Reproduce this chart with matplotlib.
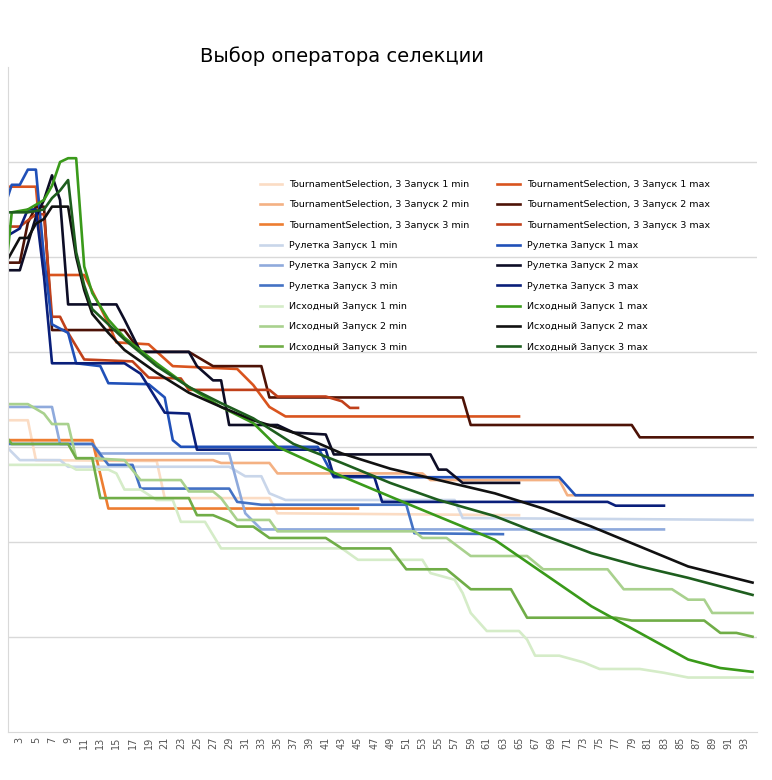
# encoding: UTF-8
import numpy as np
import matplotlib.pyplot as plt

# -----------------------------------------------------------------------------
def selection_operator_chart():
    # name: (colour, [(generation, value), ...])
    series = {
        u'TournamentSelection, 3 Запуск 1 min': ('#fbdcc4', [(1, 3.28), (4, 3.28), (5, 2.86), (20, 2.85), (21, 2.46), (34, 2.46), (35, 2.3), (65, 2.28)]),
        u'TournamentSelection, 3 Запуск 2 min': ('#f4b183', [(1, 3.07), (12, 3.07), (13, 2.86), (27, 2.86), (28, 2.83), (34, 2.83), (35, 2.72), (53, 2.72), (54, 2.65), (70, 2.65), (71, 2.49), (94, 2.49)]),
        u'TournamentSelection, 3 Запуск 3 min': ('#ed7d31', [(1, 3.07), (12, 3.07), (14, 2.35), (45, 2.35)]),
        u'Рулетка Запуск 1 min': ('#c9d6ea', [(1, 3.03), (3, 2.86), (8, 2.86), (9, 2.79), (29, 2.79), (31, 2.69), (33, 2.69), (34, 2.51), (36, 2.44), (57, 2.44), (58, 2.25), (94, 2.23)]),
        u'Рулетка Запуск 2 min': ('#8faadc', [(1, 3.42), (7, 3.42), (8, 3.03), (12, 3.03), (13, 2.93), (29, 2.93), (31, 2.3), (33, 2.13), (83, 2.13)]),
        u'Рулетка Запуск 3 min': ('#4472c4', [(1, 3.03), (12, 3.03), (14, 2.81), (17, 2.81), (18, 2.56), (29, 2.56), (30, 2.42), (33, 2.39), (51, 2.39), (52, 2.09), (63, 2.08)]),
        u'Исходный Запуск 1 min': ('#d5ecc8', [(1, 2.81), (9, 2.81), (10, 2.76), (14, 2.76), (15, 2.72), (16, 2.55), (18, 2.55), (20, 2.44), (22, 2.44), (23, 2.21), (26, 2.21), (28, 1.93), (43, 1.93), (45, 1.81), (53, 1.81), (54, 1.67), (57, 1.6), (58, 1.46), (59, 1.25), (61, 1.06), (65, 1.06), (66, 0.97), (67, 0.8), (70, 0.8), (73, 0.73), (75, 0.66), (80, 0.66), (83, 0.62), (86, 0.57), (94, 0.57)]),
        u'Исходный Запуск 2 min': ('#a9d18e', [(1, 3.45), (4, 3.45), (6, 3.35), (7, 3.24), (9, 3.24), (10, 2.88), (12, 2.88), (16, 2.86), (18, 2.65), (23, 2.65), (24, 2.53), (27, 2.53), (28, 2.46), (30, 2.23), (34, 2.23), (35, 2.11), (52, 2.11), (53, 2.04), (56, 2.04), (59, 1.85), (66, 1.85), (68, 1.71), (76, 1.71), (78, 1.5), (84, 1.5), (86, 1.39), (88, 1.39), (89, 1.25), (94, 1.25)]),
        u'Исходный Запуск 3 min': ('#70ad47', [(1, 3.14), (2, 3.03), (9, 3.03), (10, 2.88), (12, 2.88), (13, 2.46), (24, 2.46), (25, 2.28), (27, 2.28), (29, 2.21), (30, 2.16), (32, 2.16), (34, 2.04), (41, 2.04), (43, 1.93), (49, 1.93), (51, 1.71), (56, 1.71), (59, 1.5), (64, 1.5), (66, 1.2), (77, 1.2), (79, 1.17), (88, 1.17), (90, 1.04), (92, 1.04), (94, 1.0)]),
        u'TournamentSelection, 3 Запуск 1 max': ('#d9541e', [(1, 5.74), (5, 5.74), (6, 4.81), (11, 4.81), (13, 4.47), (14, 4.3), (15, 4.1), (19, 4.08), (22, 3.85), (30, 3.82), (32, 3.65), (34, 3.42), (36, 3.32), (65, 3.32)]),
        u'TournamentSelection, 3 Запуск 2 max': ('#4d1206', [(1, 4.94), (3, 4.94), (4, 5.36), (5, 5.53), (6, 5.53), (7, 4.23), (16, 4.23), (18, 4.0), (24, 4.0), (25, 3.95), (27, 3.85), (33, 3.85), (34, 3.52), (58, 3.52), (59, 3.23), (79, 3.23), (80, 3.1), (94, 3.1)]),
        u'TournamentSelection, 3 Запуск 3 max': ('#c0401a', [(1, 5.32), (3, 5.32), (5, 5.45), (6, 5.45), (7, 4.37), (8, 4.37), (9, 4.2), (11, 3.92), (17, 3.9), (19, 3.73), (23, 3.72), (24, 3.6), (34, 3.6), (35, 3.53), (41, 3.53), (43, 3.48), (44, 3.41), (45, 3.41)]),
        u'Рулетка Запуск 1 max': ('#2050b8', [(1, 5.5), (2, 5.76), (3, 5.76), (4, 5.92), (5, 5.92), (6, 5.0), (7, 4.29), (9, 4.2), (10, 3.88), (13, 3.85), (14, 3.67), (19, 3.66), (21, 3.52), (22, 3.07), (23, 3.0), (40, 3.0), (42, 2.68), (70, 2.68), (72, 2.49), (94, 2.49)]),
        u'Рулетка Запуск 2 max': ('#0d0d26', [(1, 4.86), (3, 4.86), (5, 5.42), (6, 5.6), (7, 5.86), (8, 5.6), (9, 4.5), (15, 4.5), (16, 4.34), (18, 4.0), (24, 4.0), (25, 3.85), (27, 3.7), (28, 3.7), (29, 3.23), (35, 3.23), (37, 3.15), (41, 3.13), (42, 2.92), (54, 2.92), (55, 2.76), (56, 2.76), (58, 2.62), (65, 2.62)]),
        u'Рулетка Запуск 3 max': ('#0a1f7a', [(1, 5.2), (3, 5.3), (4, 5.5), (5, 5.5), (6, 4.8), (7, 3.88), (16, 3.88), (18, 3.77), (21, 3.36), (24, 3.35), (25, 2.97), (41, 2.97), (42, 2.69), (47, 2.69), (48, 2.42), (76, 2.42), (77, 2.38), (83, 2.38)]),
        u'Исходный Запуск 1 max': ('#3a9a1a', [(1, 4.62), (2, 5.47), (4, 5.5), (6, 5.6), (7, 5.75), (8, 6.0), (9, 6.04), (10, 6.04), (11, 4.9), (12, 4.62), (14, 4.34), (16, 4.15), (20, 3.88), (24, 3.63), (28, 3.42), (32, 3.25), (35, 3.0), (43, 2.69), (52, 2.37), (62, 2.02), (68, 1.67), (74, 1.32), (80, 1.04), (86, 0.76), (90, 0.67), (94, 0.63)]),
        u'Исходный Запуск 2 max': ('#111111', [(1, 4.9), (3, 5.2), (4, 5.2), (5, 5.35), (6, 5.4), (7, 5.53), (9, 5.53), (10, 5.0), (11, 4.65), (12, 4.4), (14, 4.2), (16, 4.02), (20, 3.78), (24, 3.57), (28, 3.42), (32, 3.28), (37, 3.15), (43, 2.93), (49, 2.77), (55, 2.65), (62, 2.51), (68, 2.35), (74, 2.16), (80, 1.95), (86, 1.74), (94, 1.57)]),
        u'Исходный Запуск 3 max': ('#1e5e1e', [(1, 5.47), (4, 5.47), (6, 5.5), (7, 5.62), (8, 5.7), (9, 5.81), (10, 5.05), (11, 4.7), (12, 4.45), (16, 4.13), (20, 3.85), (24, 3.63), (28, 3.46), (32, 3.3), (37, 3.03), (43, 2.83), (49, 2.62), (55, 2.44), (62, 2.27), (68, 2.07), (74, 1.88), (80, 1.74), (86, 1.62), (94, 1.44)]),
    }

    fig, ax = plt.subplots(figsize=(7.72, 7.8), dpi=100)
    fig.subplots_adjust(left=0.01, right=0.98, bottom=0.062, top=0.914)
    for name, (color, pts) in series.items():
        pts = np.array(pts)
        ax.plot(pts[:, 0], pts[:, 1], color=color, lw=1.9, label=name)
    ax.set_xlim(1.5, 94.5)
    ax.set_ylim(0, 7)
    ax.set_xticks(range(3, 94, 2))
    ax.set_xticklabels([str(i) for i in range(3, 94, 2)], rotation=90, fontsize=7, color='#555555')
    ax.set_yticks(range(1, 7))
    ax.set_yticklabels([])
    ax.tick_params(length=0)
    ax.grid(axis='y', color='#d9d9d9', lw=1)
    for s in ['top', 'right']:
        ax.spines[s].set_visible(False)
    ax.spines['left'].set_color('#d9d9d9')
    ax.spines['bottom'].set_color('#d9d9d9')
    plt.legend(loc='upper left', bbox_to_anchor=(0.325, 0.843), ncol=2, frameon=False,
               fontsize=6.8, handlelength=2.4, handletextpad=0.7, labelspacing=1.2, columnspacing=3.0)
    fig.suptitle(u'Выбор оператора селекции', x=0.443, y=0.94, fontsize=14)
    fig.savefig('out.png')


# -----------------------------------------------------------------------------
if __name__ == '__main__':
    selection_operator_chart()
